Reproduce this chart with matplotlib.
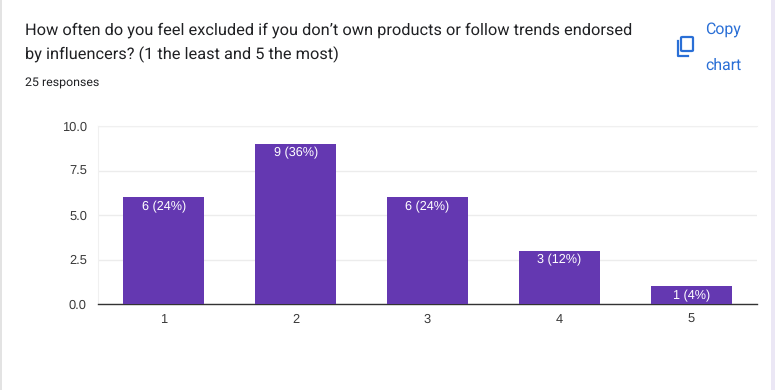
import matplotlib
matplotlib.use("Agg")
import matplotlib.pyplot as plt
from matplotlib.patches import Rectangle, FancyBboxPatch

plt.rcParams["text.hinting"] = "no_hinting"

categories = ["1", "2", "3", "4", "5"]
counts = [6, 9, 6, 3, 1]
bar_labels = ["6 (24%)", "9 (36%)", "6 (24%)", "3 (12%)", "1 (4%)"]
y_ticks = [0.0, 2.5, 5.0, 7.5, 10.0]
title_lines = ["How often do you feel excluded if you don\u2019t own products or follow trends endorsed",
               "by influencers? (1 the least and 5 the most)"]

W, H = 775, 390
PURPLE = "#6438b1"
BLUE = "#2a6fd6"

fig = plt.figure(figsize=(W / 100, H / 100), dpi=100)
fig.patch.set_facecolor("white")

# strips at the page edge
fig.patches.append(Rectangle((771 / W, 0), 4 / W, 1, transform=fig.transFigure, color="#ebe7f5", lw=0))
fig.patches.append(Rectangle((0, 0), 1.5 / W, 1, transform=fig.transFigure, color="#e3e3e3", lw=0))

ax = fig.add_axes([98 / W, 1 - 304 / H, (757 - 98) / W, (304 - 126) / H])
x = range(1, len(categories) + 1)
ax.bar(x, counts, width=0.615, color=PURPLE, zorder=3)
ax.set_xlim(0.5, 5.5)
ax.set_ylim(0, 10)

ax.set_xticks(list(x))
ax.set_xticklabels(categories)
ax.set_yticks(y_ticks)
ax.set_yticklabels(["%.1f" % t for t in y_ticks])
ax.tick_params(axis="both", length=0, labelsize=9.3, labelcolor="#3a3a3a", labelfontfamily="Liberation Sans")
ax.tick_params(axis="x", pad=7)
ax.tick_params(axis="y", pad=8)

ax.grid(axis="y", color="#ececec", lw=1, zorder=0)
for s in ["top", "left", "right"]:
    ax.spines[s].set_color("#f0f0f0")
    ax.spines[s].set_linewidth(0.8)
ax.spines["right"].set_visible(False)
ax.spines["bottom"].set_color("#333333")
ax.spines["bottom"].set_linewidth(1)

for xi, c, lab in zip(x, counts, bar_labels):
    ax.annotate(lab, (xi, c), xytext=(0, -9.5), textcoords="offset pixels", ha="center", va="center",
                color="white", fontsize=9.1, family="Liberation Sans", zorder=4)

# header
fig.text(25 / W, 1 - 30.5 / H, title_lines[0], fontsize=11.75, family="Roboto", color="#202124", va="center")
fig.text(25 / W, 1 - 54.5 / H, title_lines[1], fontsize=11.75, family="Roboto", color="#202124", va="center")
fig.text(25 / W, 1 - 83 / H, "25 responses", fontsize=8.9, family="Roboto", color="#202124", va="center")

fig.text(723 / W, 1 - 29.5 / H, "Copy", fontsize=11.4, family="Roboto", color=BLUE, va="center", ha="center")
fig.text(723 / W, 1 - 65 / H, "chart", fontsize=11.4, family="Roboto", color=BLUE, va="center", ha="center")

# copy icon
fig.patches.append(FancyBboxPatch((681 / W, 1 - 51 / H), 12 / W, 14 / H, boxstyle="round,pad=0,rounding_size=0.002",
                                  transform=fig.transFigure, fc="white", ec=BLUE, lw=1.6, zorder=5))
fig.add_artist(plt.Line2D([677.5 / W, 677.5 / W, 688 / W], [1 - 41 / H, 1 - 56 / H, 1 - 56 / H],
                          color=BLUE, lw=1.6, zorder=5))

fig.savefig("out.png", dpi=100)
